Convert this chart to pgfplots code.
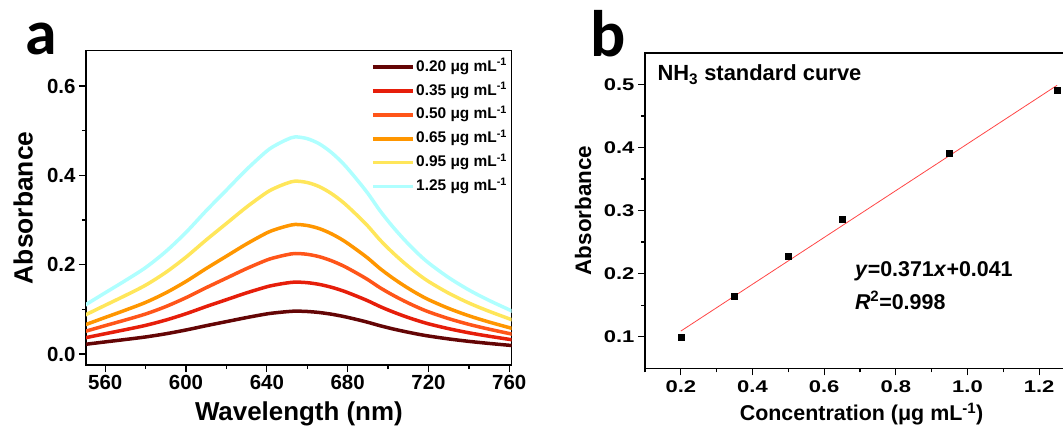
\documentclass[border=0pt]{standalone}
\usepackage{pgfplots}
\pgfplotsset{compat=1.18}
\usepackage{fontspec}
\setmainfont{Liberation Sans}
\newfontfamily\widesans[FakeStretch=1.3]{Liberation Sans}
\newfontfamily\panelfont{Carlito}
\definecolor{cA}{RGB}{100,5,5}
\definecolor{cB}{RGB}{230,30,10}
\definecolor{cC}{RGB}{255,85,25}
\definecolor{cD}{RGB}{255,150,0}
\definecolor{cE}{RGB}{255,230,90}
\definecolor{cF}{RGB}{175,255,255}
\definecolor{fitred}{RGB}{255,70,70}

\pgfplotstableread{
x a b c d e f
550 .0216 .0362 .0506 .0653 .0871 .1094
560 .0271 .0454 .0635 .0818 .1091 .1371
570 .0325 .0545 .0762 .0982 .1310 .1645
580 .0382 .0641 .0896 .1155 .1541 .1935
590 .0453 .0760 .1062 .1369 .1827 .2294
600 .0538 .0902 .1261 .1625 .2169 .2723
610 .0634 .1063 .1485 .1914 .2554 .3208
620 .0725 .1216 .1699 .2190 .2922 .3669
630 .0816 .1369 .1913 .2465 .3290 .4131
640 .0898 .1505 .2104 .2712 .3618 .4544
645 .0926 .1554 .2171 .2799 .3735 .4690
650 .0948 .1591 .2223 .2865 .3824 .4802
654 .0960 .1610 .2250 .2900 .3870 .4860
660 .0952 .1597 .2232 .2877 .3839 .4821
666 .0929 .1558 .2178 .2807 .3746 .4704
672 .0891 .1494 .2088 .2691 .3591 .4510
678 .0840 .1409 .1969 .2538 .3386 .4253
684 .0778 .1304 .1823 .2349 .3135 .3937
690 .0710 .1191 .1665 .2146 .2864 .3596
696 .0634 .1063 .1485 .1914 .2554 .3208
702 .0566 .0950 .1328 .1711 .2283 .2867
708 .0506 .0848 .1186 .1528 .2039 .2561
714 .0451 .0757 .1058 .1363 .1819 .2284
720 .0403 .0676 .0945 .1218 .1625 .2041
730 .0338 .0567 .0792 .1021 .1362 .1711
740 .0283 .0475 .0664 .0856 .1142 .1434
750 .0237 .0398 .0556 .0716 .0956 .1200
762 .0187 .0314 .0439 .0566 .0755 .0948
}\spectra

\pgfplotstableread{
x y
0.20 0.100
0.35 0.165
0.50 0.227
0.65 0.287
0.95 0.391
1.25 0.491
}\calib

\begin{document}
\begin{tikzpicture}
% ---------------- panel a ----------------
\begin{axis}[
  at={(86bp,65bp)}, anchor=south west,
  scale only axis, width=425.7bp, height=314.3bp,
  clip mode=individual,
  xmin=550.5, xmax=761.2, ymin=-0.0246, ymax=0.679,
  xtick={560,600,...,760}, minor xtick={580,620,...,740},
  ytick={0,0.2,0.4,0.6}, minor ytick={0.1,0.3,0.5},
  yticklabel style={/pgf/number format/.cd,fixed,fixed zerofill,precision=1},
  tick pos=left, tick align=outside,
  major tick length=7bp, minor tick length=4bp,
  every tick/.style={black, line width=1.3bp},
  axis line style={line width=1.5bp},
  /pgf/number format/assume math mode=true,
  tick label style={font=\bfseries\fontsize{20.5}{20.5}\selectfont},
  legend style={draw=none, fill=none, at={(axis description cs:0.6695,0.977)},
    anchor=north west, inner sep=0pt, row sep=5.9bp,
    nodes={inner sep=1.5bp, text height=11.5bp, text depth=3.5bp,
      font=\bfseries\fontsize{15.5}{15.5}\selectfont}},
  legend cell align=left,
  legend image code/.code={\draw[#1,line width=3.5bp] (0bp,0bp) -- (40bp,0bp);},
  every axis plot/.append style={line width=3.5bp, smooth},
]
\addplot[cA] table[x=x,y=a] {\spectra};
\addlegendentry{0.20 μg mL\textsuperscript{-1}}
\addplot[cB] table[x=x,y=b] {\spectra};
\addlegendentry{0.35 μg mL\textsuperscript{-1}}
\addplot[cC] table[x=x,y=c] {\spectra};
\addlegendentry{0.50 μg mL\textsuperscript{-1}}
\addplot[cD] table[x=x,y=d] {\spectra};
\addlegendentry{0.65 μg mL\textsuperscript{-1}}
\addplot[cE] table[x=x,y=e] {\spectra};
\addlegendentry{0.95 μg mL\textsuperscript{-1}}
\addplot[cF] table[x=x,y=f] {\spectra};
\addlegendentry{1.25 μg mL\textsuperscript{-1}}
\node[anchor=base, rotate=90, font=\bfseries\fontsize{26.5}{26.5}\selectfont]
  at (axis description cs:-0.1254,0.5) {Absorbance};
\node[anchor=base, font=\bfseries\fontsize{26}{26}\selectfont]
  at (axis description cs:0.5,-0.178) {Wavelength (nm)};
\end{axis}

% ---------------- panel b ----------------
\begin{axis}[
  at={(645bp,61.7bp)}, anchor=south west,
  scale only axis, width=430bp, height=315.5bp,
  clip mode=individual,
  xmin=0.1, xmax=1.3, ymin=0.05, ymax=0.55,
  xtick={0.2,0.4,...,1.21}, minor xtick={0.1,0.3,...,1.21},
  ytick={0.1,0.2,...,0.51}, minor ytick={0.15,0.25,...,0.46},
  xticklabel style={yshift=-2bp,/pgf/number format/.cd,fixed,fixed zerofill,precision=1},
  yticklabel style={/pgf/number format/.cd,fixed,fixed zerofill,precision=1},
  tick pos=left, tick align=outside,
  major tick length=7bp, minor tick length=4bp,
  every tick/.style={black, line width=1.3bp},
  axis line style={line width=1.5bp},
  /pgf/number format/assume math mode=true,
  tick label style={font=\widesans\bfseries\fontsize{17}{17}\selectfont},
]
\addplot[fitred, line width=0.8bp] coordinates {(0.2,0.109) (1.25,0.4985)};
\addplot[only marks, mark=square*, mark size=3bp, black] table[x=x,y=y] {\calib};
\node[anchor=base west, font=\bfseries\fontsize{22}{22}\selectfont, inner sep=0pt]
  at (axis description cs:{(657.3-645)/430},{(368.3-80.7)/315.5}) {NH\textsubscript{3} standard curve};
\node[anchor=base west, font=\bfseries\fontsize{21.5}{21.5}\selectfont, inner sep=0pt]
  at (axis description cs:{(854.8-645)/430},{(368.3-276.7)/315.5}) {\textit{y}=0.371\textit{x}+0.041};
\node[anchor=base west, font=\bfseries\fontsize{21.5}{21.5}\selectfont, inner sep=0pt]
  at (axis description cs:{(854.8-645)/430},{(368.3-309.3)/315.5}) {\textit{R}\textsuperscript{2}=0.998};
\node[anchor=base, rotate=90, font=\bfseries\fontsize{22.5}{22.5}\selectfont]
  at (axis description cs:-0.1251,0.5) {Absorbance};
\node[anchor=base, font=\bfseries\fontsize{21.5}{21.5}\selectfont]
  at (axis description cs:{(861.6-645)/430},-0.167) {Concentration (μg mL\textsuperscript{-1})};
\end{axis}

% panel letters
\node[anchor=base west, inner sep=0pt, font=\panelfont\bfseries\fontsize{64}{64}\selectfont] at (25bp,375bp) {a};
\node[anchor=base west, inner sep=0pt, font=\panelfont\bfseries\fontsize{66}{66}\selectfont] at (590bp,373.3bp) {b};

\pgfresetboundingbox
\path[use as bounding box] (0,0) rectangle (1063bp,430bp);
\end{tikzpicture}
\end{document}
